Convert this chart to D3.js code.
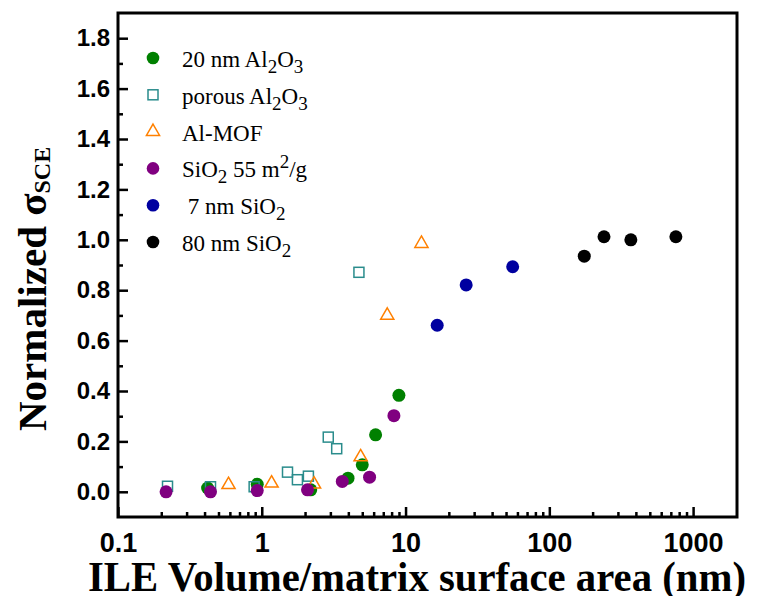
<!DOCTYPE html>
<html>
<head>
<meta charset="utf-8">
<script src="https://cdn.jsdelivr.net/npm/d3@7"></script>
<style>
  body { margin: 0; background: #fff; }
  svg { display: block; }
</style>
</head>
<body>
<script>
const width = 760;
const height = 596;
const margin = {left: 118, right: 23, top: 13, bottom: 79};

// data: [x, normalized sigma]
const al2o3_20nm = [[0.42, 0.015], [0.93, 0.03], [2.19, 0.008], [3.98, 0.054], [5.0, 0.107], [6.19, 0.226], [8.99, 0.383]];
const al2o3_porous = [[0.221, 0.022], [0.44, 0.02], [0.885, 0.02], [1.51, 0.078], [1.77, 0.048], [2.11, 0.062], [2.9, 0.217], [3.32, 0.171], [4.74, 0.871]];
const al_mof = [[0.587, 0.028], [1.17, 0.034], [2.31, 0.03], [4.87, 0.138], [7.46, 0.70], [12.9, 0.985]];
const sio2_55 = [[0.216, 0.0], [0.44, 0.0], [0.93, 0.005], [2.08, 0.008], [3.63, 0.041], [5.62, 0.058], [8.3, 0.302]];
const sio2_7nm = [[16.6, 0.661], [26.4, 0.821], [55.6, 0.893]];
const sio2_80nm = [[175, 0.935], [240, 1.012], [369, 1.0], [759, 1.012]];

const x_major = [0.1, 1, 10, 100, 1000];
const y_major = [0.0, 0.2, 0.4, 0.6, 0.8, 1.0, 1.2, 1.4, 1.6, 1.8];

const svg = d3.select('body')
    .append('svg')
    .attr('width', width)
    .attr('height', height);

const x_scale = d3.scaleLog()
    .domain([0.1, 2020])
    .range([margin.left, width - margin.right]);
const y_scale = d3.scaleLinear()
    .domain([-0.1, 1.9])
    .range([height - margin.bottom, margin.top]);

// minor ticks
const x_minor = [];
[0.1, 1, 10, 100].forEach(d => { for (let k = 2; k <= 9; k++) x_minor.push(d * k); });
const y_minor = d3.range(0.1, 1.8, 0.2);

const x_axis_g = svg.append('g')
    .attr('transform', `translate(0,${height - margin.bottom})`);
x_axis_g.append('g')
    .call(d3.axisBottom(x_scale).tickValues(x_minor).tickSize(-5).tickFormat(''));
x_axis_g.append('g')
    .call(d3.axisBottom(x_scale).tickValues(x_major).tickSize(-10).tickPadding(16).tickFormat(d3.format('')));

const y_axis_g = svg.append('g')
    .attr('transform', `translate(${margin.left},0)`);
y_axis_g.append('g')
    .call(d3.axisLeft(y_scale).tickValues(y_minor).tickSize(-5).tickFormat(''));
y_axis_g.append('g')
    .call(d3.axisLeft(y_scale).tickValues(y_major).tickSize(-10).tickPadding(8).tickFormat(d3.format('.1f')));

svg.selectAll('.domain').remove();
svg.selectAll('.tick line').attr('stroke', 'black').attr('stroke-width', 2.5);
svg.selectAll('.tick text')
    .attr('fill', 'black')
    .style('font-family', '"Liberation Sans", Arial, sans-serif')
    .style('font-weight', 'bold');
x_axis_g.selectAll('.tick text').style('font-size', '27px');
y_axis_g.selectAll('.tick text').style('font-size', '24px');

// frame
svg.append('rect')
    .attr('x', margin.left)
    .attr('y', margin.top)
    .attr('width', width - margin.left - margin.right)
    .attr('height', height - margin.top - margin.bottom)
    .attr('fill', 'none')
    .attr('stroke', 'black')
    .attr('stroke-width', 3);

const green = '#008000', teal = '#2a8c8c', orange = '#ff8000', purple = '#800080', blue = '#0000a0';
const tri = d3.symbol().type(d3.symbolTriangle).size(75);

function circles(data, color) {
    svg.append('g').selectAll('circle')
        .data(data)
        .enter().append('circle')
        .attr('cx', d => x_scale(d[0]))
        .attr('cy', d => y_scale(d[1]))
        .attr('r', 6.5)
        .attr('fill', color);
}

circles(al2o3_20nm, green);
svg.append('g').selectAll('rect')
    .data(al2o3_porous)
    .enter().append('rect')
    .attr('x', d => x_scale(d[0]) - 5)
    .attr('y', d => y_scale(d[1]) - 5)
    .attr('width', 10)
    .attr('height', 10)
    .attr('fill', 'none')
    .attr('stroke', teal)
    .attr('stroke-width', 1.5);
svg.append('g').selectAll('path')
    .data(al_mof)
    .enter().append('path')
    .attr('d', tri)
    .attr('transform', d => `translate(${x_scale(d[0])},${y_scale(d[1])})`)
    .attr('fill', 'none')
    .attr('stroke', orange)
    .attr('stroke-width', 1.5);
circles(sio2_55, purple);
circles(sio2_7nm, blue);
circles(sio2_80nm, 'black');

// legend: parts are [text, 0 normal | 1 subscript | -1 superscript]
const legend = [
    {type: 'circle', color: green, parts: [['20 nm Al', 0], ['2', 1], ['O', 0], ['3', 1]]},
    {type: 'square', color: teal, parts: [['porous Al', 0], ['2', 1], ['O', 0], ['3', 1]]},
    {type: 'triangle', color: orange, parts: [['Al-MOF', 0]]},
    {type: 'circle', color: purple, parts: [['SiO', 0], ['2', 1], [' 55 m', 0], ['2', -1], ['/g', 0]]},
    {type: 'circle', color: blue, parts: [['\u00a07 nm SiO', 0], ['2', 1]]},
    {type: 'circle', color: 'black', parts: [['80 nm SiO', 0], ['2', 1]]}
];
const legend_g = svg.append('g');
legend.forEach((item, i) => {
    const cy = 58 + i * 36.8;
    const cx = 153;
    if (item.type === 'circle') {
        legend_g.append('circle').attr('cx', cx).attr('cy', cy).attr('r', 6.3).attr('fill', item.color);
    } else if (item.type === 'square') {
        legend_g.append('rect').attr('x', cx - 5).attr('y', cy - 5).attr('width', 10).attr('height', 10)
            .attr('fill', 'none').attr('stroke', item.color).attr('stroke-width', 1.5);
    } else {
        legend_g.append('path').attr('d', tri).attr('transform', `translate(${cx},${cy})`)
            .attr('fill', 'none').attr('stroke', item.color).attr('stroke-width', 1.5);
    }
    const t = legend_g.append('text')
        .attr('x', 182)
        .attr('y', cy + 9)
        .style('font-family', '"Liberation Serif", "Times New Roman", serif')
        .style('font-size', '23px')
        .attr('fill', 'black');
    let shift = 0;
    item.parts.forEach(p => {
        const target = p[1] === 1 ? 6 : (p[1] === -1 ? -9 : 0);
        const ts = t.append('tspan').text(p[0]).attr('dy', target - shift);
        if (p[1] !== 0) ts.style('font-size', '19px');
        shift = target;
    });
});

// axis titles
svg.append('text')
    .attr('x', 88)
    .attr('y', 591)
    .attr('textLength', 658)
    .attr('lengthAdjust', 'spacingAndGlyphs')
    .style('font-family', '"Liberation Serif", "Times New Roman", serif')
    .style('font-weight', 'bold')
    .style('font-size', '43px')
    .attr('fill', 'black')
    .text('ILE Volume/matrix surface area (nm)');

const y_title = svg.append('text')
    .attr('transform', 'translate(46,431) rotate(-90)')
    .attr('text-anchor', 'start')
    .style('font-family', '"Liberation Serif", "Times New Roman", serif')
    .style('font-weight', 'bold')
    .style('font-size', '41px')
    .attr('fill', 'black');
y_title.append('tspan').text('Normalized \u03c3');
y_title.append('tspan').attr('dy', 4).style('font-size', '24px').text('SCE');
</script>
</body>
</html>
